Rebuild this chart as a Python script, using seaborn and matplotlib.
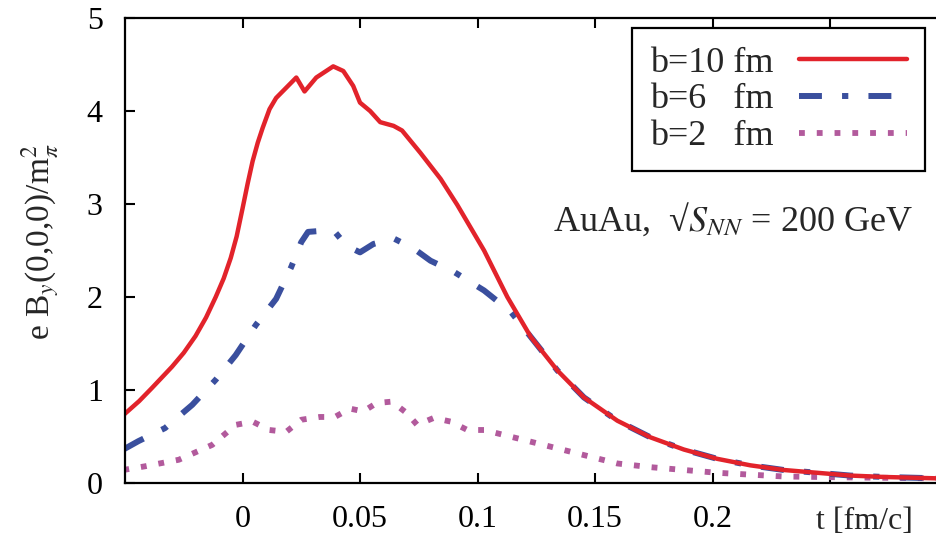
import numpy as np
import pandas as pd
import matplotlib
matplotlib.use("Agg")
import matplotlib.pyplot as plt
import seaborn as sns

# ---- data ----
t_b10 = [-0.0507, -0.0440, -0.0386, -0.030, -0.025, -0.020, -0.0155, -0.0114, -0.008, -0.005,
         -0.0025, 0.0, 0.0022, 0.0043, 0.0065, 0.0086, 0.0115, 0.0143,
         0.0186, 0.0229, 0.0264, 0.0314, 0.0386, 0.0429, 0.0471, 0.05, 0.0543, 0.0586,
         0.0643, 0.0679, 0.0757, 0.0843, 0.0914, 0.1028, 0.1127, 0.1227, 0.134, 0.1453,
         0.1595, 0.1737, 0.1878, 0.202, 0.2161, 0.2303, 0.2445, 0.2586, 0.2728, 0.2956]
b10 = [0.73, 0.88, 1.02, 1.25, 1.40, 1.58, 1.78, 2.0, 2.2, 2.42,
       2.65, 2.95, 3.22, 3.46, 3.66, 3.82, 4.02, 4.14,
       4.25, 4.36, 4.21, 4.36, 4.48, 4.43, 4.27, 4.09, 4.0, 3.88,
       3.84, 3.79, 3.55, 3.27, 2.99, 2.50, 2.0, 1.57, 1.21, 0.92,
       0.67, 0.49, 0.36, 0.26, 0.19, 0.14, 0.11, 0.08, 0.065, 0.05]

t_b6 = [-0.0507, -0.0443, -0.033, -0.0214, -0.0114, -0.0029, 0.0057, 0.0143, 0.0207, 0.025,
        0.0279, 0.0329, 0.0393, 0.0443, 0.05, 0.0557, 0.0643, 0.0729, 0.08, 0.09,
        0.1028, 0.1142, 0.1227, 0.134, 0.1453, 0.1595, 0.1737, 0.1878, 0.202, 0.2161,
        0.2303, 0.2445, 0.2586, 0.2728, 0.2956]
b6 = [0.36, 0.45, 0.59, 0.84, 1.11, 1.375, 1.70, 1.98, 2.32, 2.59,
      2.70, 2.71, 2.70, 2.55, 2.48, 2.57, 2.63, 2.52, 2.39, 2.27,
      2.07, 1.84, 1.57, 1.21, 0.92, 0.67, 0.49, 0.36, 0.26, 0.19,
      0.14, 0.11, 0.08, 0.065, 0.05]

t_b2 = [-0.0507, -0.0414, -0.0271, -0.0129, -0.0029, 0.0043, 0.0114, 0.0186, 0.025, 0.0329,
        0.0393, 0.0457, 0.0514, 0.0571, 0.0636, 0.07, 0.0743, 0.0814, 0.0886, 0.0957,
        0.1028, 0.117, 0.1312, 0.1453, 0.1595, 0.1737, 0.1878, 0.202, 0.216, 0.2303,
        0.2445, 0.2586, 0.2956]
b2 = [0.14, 0.18, 0.25, 0.41, 0.625, 0.66, 0.57, 0.55, 0.68, 0.71,
      0.71, 0.80, 0.77, 0.86, 0.875, 0.75, 0.625, 0.70, 0.66, 0.57,
      0.57, 0.48, 0.39, 0.30, 0.21, 0.17, 0.14, 0.11, 0.09, 0.07,
      0.065, 0.06, 0.05]

labels = ["b=10 fm", "b=6   fm", "b=2   fm"]
xticks = [0, 0.05, 0.1, 0.15, 0.2, 0.25]
xticklabels = ["0", "0.05", "0.1", "0.15", "0.2", ""]
yticks = [0, 1, 2, 3, 4, 5]

# ---- style ----
sns.set_theme(style="white")
plt.rcParams["font.family"] = ["Liberation Serif", "DejaVu Serif"]
plt.rcParams["mathtext.fontset"] = "stix"
plt.rcParams["lines.scale_dashes"] = False

fig = plt.figure(figsize=(9.37, 5.39), dpi=100)
ax = fig.add_axes([125 / 937, 56 / 539, 822.5 / 937, 465 / 539])

df10 = pd.DataFrame({"t": t_b10, "B": b10})
df6 = pd.DataFrame({"t": t_b6, "B": b6})
df2 = pd.DataFrame({"t": t_b2, "B": b2})

red = "#e2232b"
blue = "#3a4f9e"
pink = "#b25a9c"

sns.lineplot(data=df2, x="t", y="B", ax=ax, color=pink, lw=4.2,
             linestyle=(0, (4.2, 8.6)), dash_capstyle="butt",
             sort=False, estimator=None, label=labels[2])
sns.lineplot(data=df6, x="t", y="B", ax=ax, color=blue, lw=4.3,
             linestyle=(0, (16.5, 14.5, 4.5, 14.5)), dash_capstyle="butt",
             sort=False, estimator=None, label=labels[1])
sns.lineplot(data=df10, x="t", y="B", ax=ax, color=red, lw=3.2,
             sort=False, estimator=None, label=labels[0])

ax.set_xlim(-0.05, 0.3)
ax.set_ylim(0, 5)
ax.set_xticks(xticks)
ax.set_xticklabels(xticklabels)
ax.set_yticks(yticks)
ax.tick_params(axis="both", direction="in", length=7, width=1.5, labelsize=23,
               pad=16, colors="black", top=True, right=True, bottom=True, left=True)
for s in ax.spines.values():
    s.set_linewidth(1.6)
    s.set_color("black")

ax.set_xlabel("")
ax.set_ylabel(r"e B$_y$(0,0,0)/m$_\pi^2$", fontsize=24)
ax.yaxis.set_label_coords(-0.078, 0.52)

ax.annotate("t [fm/c]", xy=(0.2648, 0), xycoords=("data", "axes fraction"),
            xytext=(0, -28), textcoords="offset points", ha="center", va="center",
            fontsize=23)

ax.text(0.958, 0.565, r"AuAu,  √$S_{NN}$ = 200 GeV", transform=ax.transAxes,
        ha="right", va="center", fontsize=26)

handles, labs = ax.get_legend_handles_labels()
order = [labs.index(l) for l in labels]
leg = ax.legend([handles[i] for i in order], [labs[i] for i in order],
                loc="upper right", bbox_to_anchor=(0.9726, 0.978),
                borderaxespad=0.0,
                markerfirst=False, fontsize=26, handlelength=3.0,
                handletextpad=0.7, labelspacing=0.1, borderpad=0.5,
                frameon=True, fancybox=False, edgecolor="black", framealpha=1)
leg.get_frame().set_linewidth(1.6)

fig.savefig("out.png", dpi=100, facecolor="white")
